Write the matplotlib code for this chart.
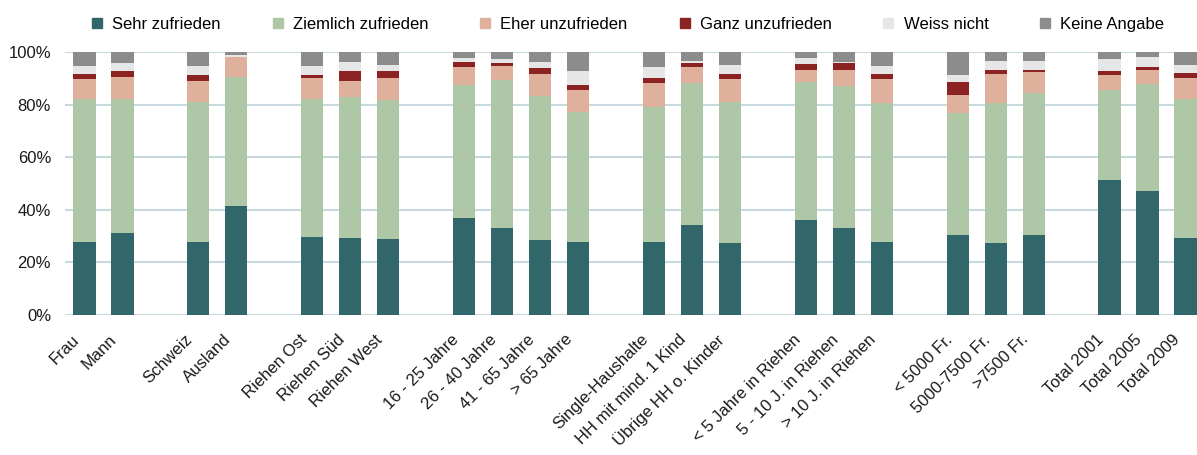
import matplotlib
matplotlib.use("Agg")
import matplotlib.pyplot as plt
from matplotlib.lines import Line2D
from matplotlib.ticker import FuncFormatter
from matplotlib.transforms import ScaledTranslation
import numpy as np

plt.rcParams['font.family'] = ['Liberation Sans', 'DejaVu Sans']

categories = ["Frau", "Mann", "Schweiz", "Ausland", "Riehen Ost", "Riehen Süd", "Riehen West",
              "16 - 25 Jahre", "26 - 40 Jahre", "41 - 65 Jahre", "> 65 Jahre",
              "Single-Haushalte", "HH mit mind. 1 Kind", "Übrige HH o. Kinder",
              "< 5 Jahre in Riehen", "5 - 10 J. in Riehen", "> 10 J. in Riehen",
              "< 5000 Fr.", "5000-7500 Fr.", ">7500 Fr.",
              "Total 2001", "Total 2005", "Total 2009"]
group_sizes = [2, 2, 3, 4, 3, 3, 3, 3]

sehr_zufrieden = [27.7, 31.1, 27.7, 41.4, 29.6, 29.2, 28.8, 36.8, 33.0, 28.4, 27.7,
                  27.7, 34.1, 27.3, 36.0, 33.0, 27.7, 30.3, 27.3, 30.3, 51.3, 47.1, 29.2]
ziemlich_zufrieden = [54.3, 50.9, 53.4, 49.1, 52.4, 53.7, 52.9, 50.6, 56.3, 54.8, 49.5,
                      51.4, 54.1, 53.7, 52.6, 54.1, 52.8, 46.5, 53.2, 54.1, 34.2, 40.7, 52.9]
eher_unzufrieden = [7.7, 8.5, 7.9, 7.6, 8.1, 6.1, 8.4, 6.9, 5.4, 8.4, 8.3,
                    9.1, 6.1, 8.7, 4.5, 6.0, 9.2, 6.8, 11.1, 8.0, 5.7, 5.3, 8.0]
ganz_unzufrieden = [1.9, 2.3, 2.2, 0.0, 1.1, 3.8, 2.7, 1.9, 1.1, 2.3, 1.9,
                    1.9, 1.5, 1.9, 2.3, 2.7, 1.9, 5.0, 1.5, 0.7, 1.6, 1.2, 1.9]
weiss_nicht = [3.1, 3.0, 3.5, 0.8, 3.5, 3.4, 2.3, 1.5, 1.5, 2.3, 5.4,
               4.2, 0.8, 3.5, 2.3, 0.4, 3.1, 2.6, 3.5, 3.5, 4.5, 3.8, 3.1]
keine_angabe = [5.3, 4.2, 5.3, 1.1, 5.3, 3.8, 4.9, 2.3, 2.7, 3.8, 7.2,
                5.7, 3.4, 4.9, 2.3, 3.8, 5.3, 8.8, 3.4, 3.4, 2.7, 1.9, 4.9]

series_names = ["Sehr zufrieden", "Ziemlich zufrieden", "Eher unzufrieden",
                "Ganz unzufrieden", "Weiss nicht", "Keine Angabe"]
series = [sehr_zufrieden, ziemlich_zufrieden, eher_unzufrieden,
          ganz_unzufrieden, weiss_nicht, keine_angabe]
colors = ["#31666B", "#AEC8A7", "#DFB09C", "#8B2323", "#E6E6E6", "#8C8C8C"]

# positions with one empty slot between groups
positions = []
p = 0
for g in group_sizes:
    for i in range(g):
        positions.append(p)
        p += 1
    p += 1
positions = np.array(positions, dtype=float)

fig = plt.figure(figsize=(11.97, 4.55), dpi=100)
ax = fig.add_axes([65 / 1197, 140 / 455, 1 - 65 / 1197, 263 / 455])

data = np.array(series)
totals = data.sum(axis=0)
data = data / totals * 100.0
bottom = np.zeros(len(categories))
for name, vals, c in zip(series_names, data, colors):
    ax.bar(positions, vals / 100.0, bottom=bottom / 100.0, width=0.59, color=c,
           label=name, zorder=3, linewidth=0)
    bottom += vals

ax.set_ylim(0, 1.0)
ax.set_xlim(-0.51, 29.3)
ax.set_yticks(np.arange(0, 1.01, 0.2))
ax.yaxis.set_major_formatter(FuncFormatter(lambda v, _: f"{int(round(v * 100))}%"))
ax.grid(axis='y', color='#C8D9E0', linewidth=1.5, zorder=0)
ax.set_axisbelow(True)
for s in ax.spines.values():
    s.set_visible(False)
ax.tick_params(axis='both', length=0, labelsize=12, colors='#1a1a1a')
ax.tick_params(axis='y', pad=10)
ax.set_xticks(positions)
ax.set_xticklabels(categories, rotation=45, ha='right', va='center', rotation_mode='anchor')
ax.tick_params(axis='x', pad=16)
shift = ScaledTranslation(-8 / 100, 0, fig.dpi_scale_trans)
for lbl in ax.get_xticklabels():
    lbl.set_transform(lbl.get_transform() + shift)

handles = [Line2D([0], [0], marker='s', linestyle='none', markersize=7.9,
                  markerfacecolor=c, markeredgecolor=c) for c in colors]
fig.legend(handles, series_names, loc='upper center', bbox_to_anchor=(628 / 1197, 1.0),
           ncol=6, frameon=False, fontsize=12, handlelength=0.7, handletextpad=0.56,
           columnspacing=3.06, borderaxespad=0.62)

fig.savefig("out.png", dpi=100)
